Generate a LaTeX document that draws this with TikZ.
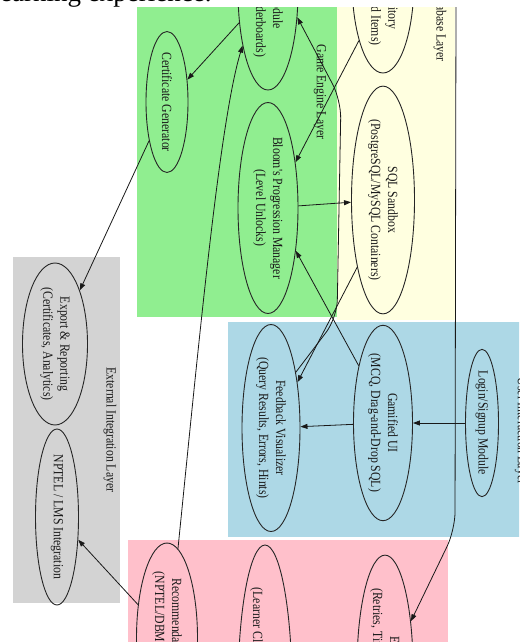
\documentclass[tikz,border=0pt]{standalone}
\usepackage{fontspec}
\setmainfont{Liberation Serif}
\newfontfamily\gvfont[FakeStretch=0.84]{Liberation Serif}
\usetikzlibrary{arrows.meta,shapes.geometric}
\newcommand{\gvsize}{\gvfont\fontsize{14pt}{17pt}\selectfont}
\definecolor{lgreen}{HTML}{90EE90}
\definecolor{lyellow}{HTML}{FFFFE0}
\definecolor{lblue}{HTML}{ADD8E6}
\definecolor{lpink}{HTML}{FFC0CB}
\definecolor{lgrey}{HTML}{D3D3D3}

\begin{document}
\begin{tikzpicture}[x=1pt,y=-1pt,>={Triangle[length=7pt,width=5pt]},
  gvnode/.style={ellipse,draw=black!85,line width=0.9pt,rotate=-90,inner sep=0pt,align=center,font=\gvsize,text=black!90},
  layerlbl/.style={rotate=-90,inner sep=0pt,font=\gvsize,text=black!90},
  flow/.style={->,line width=0.8pt,draw=black!90}]
\useasboundingbox (0,0) rectangle (519,642);
% ---- page text above the figure ----
\node[anchor=base west,inner sep=0pt,font=\fontsize{27pt}{30pt}\selectfont] (pagetext) at (-7.5,2) {learning experience.};
\begin{scope}
\clip (0,8) rectangle (519,642);
% ---- layer backgrounds ----
\fill[lgreen] (137,-140) rectangle (337,317);
\fill[lyellow] (337,-140) rectangle (455,320);
\fill[lblue] (228,322) rectangle (530,537);
\fill[lpink] (128,540) rectangle (448,800);
\fill[lgrey] (13,257) rectangle (120,603);
% ---- layer labels ----
\node[layerlbl] (gamelbl) at (320,92) {Game Engine Layer};
\node[layerlbl] (dblbl) at (440,25) {Database Layer};
\node[layerlbl] (uilbl) at (521,431) {User Interaction Layer};
\node[layerlbl] (extlbl) at (110,430) {External Integration Layer};
% ---- game engine layer ----
\node[gvnode,minimum width=198pt,minimum height=60pt] (score) at (268,-9) {Scoring Module\\(XP, Badges, Leaderboards)};
\node[gvnode,minimum width=141pt,minimum height=42pt] (cert) at (167,102) {Certificate Generator};
\node[gvnode,minimum width=211pt,minimum height=60pt] (bloom) at (268,208) {Bloom's Progression Manager\\(Level Unlocks)};
% ---- database layer ----
\node[gvnode,minimum width=184pt,minimum height=62pt] (qrepo) at (383,-19) {Question Repository\\(SQL Questions and Items)};
\node[gvnode,minimum width=225pt,minimum height=63pt] (sandbox) at (383,200) {SQL Sandbox\\(PostgreSQL/MySQL Containers)};
% ---- user interaction layer ----
\node[gvnode,minimum width=207pt,minimum height=58pt] (feedback) at (271,428) {Feedback Visualizer\\(Query Results, Errors, Hints)};
\node[gvnode,minimum width=190pt,minimum height=59pt] (gameui) at (383,423) {Gamified UI\\(MCQ, Drag-and-Drop SQL)};
\node[gvnode,minimum width=140pt,minimum height=33pt] (login) at (482,423) {Login/Signup Module};
% ---- external integration layer ----
\node[gvnode,minimum width=162pt,minimum height=65pt] (export) at (55,344) {Export \& Reporting\\(Certificates, Analytics)};
\node[gvnode,minimum width=165pt,minimum height=43pt] (nptel) at (57,517) {NPTEL / LMS Integration};
% ---- analytics layer ----
\node[gvnode,minimum width=190pt,minimum height=61pt] (recom) at (167,638) {Recommendation Engine\\(NPTEL/DBMS Resources)};
\node[gvnode,minimum width=288pt,minimum height=54pt] (learner) at (265,689) {Progress Analytics\\(Learner Clustering, Performance Insights)};
\node[gvnode,minimum width=216pt,minimum height=56pt] (errtrack) at (385,668) {Error Tracker\\(Retries, Time Spent, Hints Used)};
\coordinate (dbtop) at (456,0);
% ---- edges ----
\draw[flow] (score) -- (cert);
\draw[flow] (recom.173) .. controls (200,330) and (220,120) .. (score.335);
\draw[flow,rounded corners=18pt] (feedback.156) -- (337,318) -- (341,100) -- (score.48);
\draw[flow] (qrepo.338) -- (bloom.149);
\draw[flow] (bloom) -- (sandbox);
\draw[flow] (sandbox.339) -- (feedback.150);
\draw[flow] (gameui.203) -- (bloom.33);
\draw[flow] (gameui) -- (feedback);
\draw[flow] (login) -- (gameui);
\draw[flow] (cert) -- (export);
\draw[flow] (recom.221) -- (nptel.43);
\draw[flow,rounded corners=18pt] (dbtop) -- (455,530) -- (errtrack.151);
\end{scope}
\end{tikzpicture}
\end{document}
